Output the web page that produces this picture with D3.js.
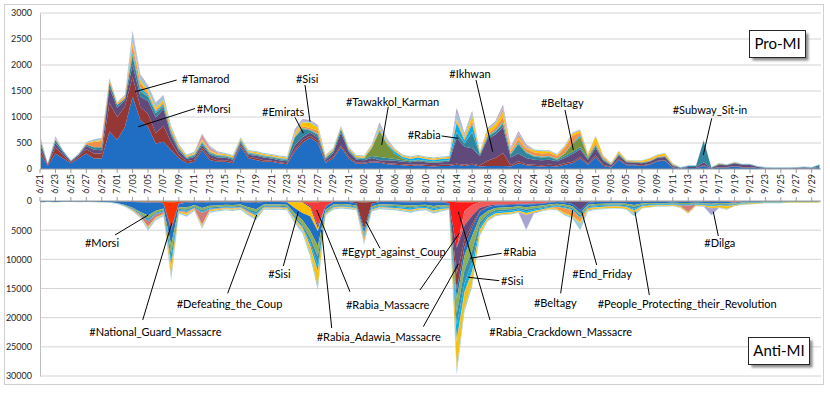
<!DOCTYPE html>
<html>
<head>
<meta charset="utf-8">
<script src="https://cdn.jsdelivr.net/npm/d3@7"></script>
<style>
  body { margin: 0; background: #fff; }
  text { font-family: Lato, "Open Sans", sans-serif; }
</style>
</head>
<body>
<div id="chart-area"></div>
<script>
// categories: one per day, 6/21 .. 9/30 (2013)
const days = d3.timeDay.range(new Date(2013, 5, 21), new Date(2013, 9, 1));

// x tick labels, every second day
const tickLabels = ["6/21", "6/23", "6/25", "6/27", "6/29", "7/01", "7/03", "7/05", "7/07", "7/09",
    "7/11", "7/13", "7/15", "7/17", "7/19", "7/21", "7/23", "7/25", "7/27", "7/29", "7/31",
    "8/02", "8/04", "8/06", "8/08", "8/10", "8/12", "8/14", "8/16", "8/18", "8/20", "8/22",
    "8/24", "8/26", "8/28", "8/30", "9/01", "9/03", "9/05", "9/07", "9/09", "9/11", "9/13",
    "9/15", "9/17", "9/19", "9/21", "9/23", "9/25", "9/27", "9/29"];

const topTicks = [0, 500, 1000, 1500, 2000, 2500, 3000];
const bottomTicks = [0, 5000, 10000, 15000, 20000, 25000, 30000];

// ---- Pro-MI series (tweets per day) ----
const morsiPro = [300, 60, 300, 200, 110, 200, 300, 200, 200, 720,
    560, 810, 1390, 940, 810, 490, 525, 365, 205, 110,
    140, 365, 175, 140, 140, 110, 430, 205, 175, 140,
    140, 110, 90, 330, 500, 600, 500, 120, 200, 420,
    200, 100, 100, 130, 120, 90, 80, 70, 60, 70,
    60, 50, 60, 60, 80, 60, 80, 50, 60, 60,
    60, 50, 110, 70, 60, 50, 60, 50, 80, 110,
    200, 80, 230, 60, 30, 180, 70, 70, 60, 80,
    150, 160, 20, 10, 20, 20, 60, 10, 30, 30,
    50, 30, 30, 20, 10, 10, 10, 10, 10, 10,
    10, 20];
const tamarodPro = [80, 20, 120, 60, 20, 40, 80, 100, 100, 550,
    440, 390, 380, 250, 250, 200, 300, 150, 60, 40,
    40, 40, 40, 30, 30, 30, 30, 30, 30, 30,
    20, 20, 20, 40, 50, 40, 40, 20, 30, 30,
    30, 20, 20, 20, 20, 20, 20, 20, 20, 20,
    20, 20, 20, 20, 20, 20, 20, 20, 100, 150,
    250, 20, 40, 20, 20, 20, 20, 20, 30, 30,
    30, 20, 30, 20, 10, 20, 10, 10, 10, 10,
    10, 10, 10, 0, 0, 0, 10, 0, 10, 10,
    10, 10, 10, 0, 0, 0, 0, 0, 0, 0,
    0, 0];
const ikhwanPro = [100, 10, 80, 50, 20, 30, 60, 70, 60, 300,
    180, 120, 230, 200, 250, 300, 330, 130, 80, 40,
    50, 50, 60, 50, 50, 40, 40, 40, 50, 50,
    40, 40, 40, 80, 60, 60, 60, 40, 80, 250,
    100, 60, 50, 60, 30, 60, 60, 50, 50, 60,
    50, 50, 50, 60, 500, 350, 300, 180, 420, 450,
    500, 150, 150, 120, 100, 100, 100, 80, 100, 150,
    150, 80, 150, 80, 30, 60, 50, 40, 40, 50,
    50, 60, 30, 10, 20, 20, 60, 10, 40, 30,
    50, 40, 40, 20, 10, 5, 5, 5, 10, 20,
    10, 20];
const emiratsPro = [80, 10, 60, 30, 10, 10, 30, 50, 60, 90,
    50, 30, 180, 100, 80, 80, 50, 40, 40, 20,
    30, 40, 30, 30, 20, 20, 30, 20, 20, 20,
    20, 20, 20, 150, 160, 40, 60, 20, 30, 60,
    30, 20, 20, 40, 60, 40, 30, 30, 20, 20,
    20, 20, 20, 20, 100, 60, 300, 30, 40, 50,
    60, 60, 180, 100, 60, 50, 50, 30, 40, 40,
    40, 20, 30, 20, 10, 20, 10, 10, 10, 10,
    10, 10, 10, 10, 20, 20, 420, 10, 10, 10,
    10, 10, 10, 10, 10, 10, 10, 10, 10, 10,
    10, 40];
const tawakkolPro = [0, 0, 0, 0, 0, 0, 0, 0, 0, 0,
    0, 0, 20, 20, 10, 10, 20, 20, 10, 10,
    10, 10, 10, 10, 10, 10, 10, 10, 10, 10,
    10, 10, 10, 10, 10, 10, 10, 10, 10, 10,
    10, 10, 10, 150, 500, 250, 100, 30, 10, 10,
    10, 10, 10, 10, 10, 10, 10, 10, 10, 10,
    10, 10, 10, 10, 10, 10, 10, 10, 50, 150,
    200, 30, 20, 10, 10, 10, 10, 10, 10, 10,
    10, 10, 10, 0, 0, 0, 0, 0, 10, 0,
    0, 0, 0, 0, 0, 0, 0, 0, 0, 0,
    0, 0];
const rabiaPro = [0, 0, 0, 0, 0, 0, 0, 0, 0, 0,
    0, 0, 50, 50, 30, 30, 30, 20, 10, 10,
    10, 20, 10, 10, 10, 10, 20, 10, 10, 10,
    10, 10, 10, 10, 10, 10, 10, 10, 10, 10,
    10, 10, 10, 10, 20, 20, 40, 30, 30, 40,
    30, 20, 30, 30, 180, 50, 150, 10, 10, 20,
    20, 10, 20, 10, 10, 10, 10, 10, 10, 10,
    30, 10, 10, 10, 0, 10, 0, 0, 0, 0,
    0, 0, 0, 0, 0, 0, 0, 0, 0, 0,
    0, 0, 0, 0, 0, 0, 0, 0, 0, 0,
    0, 0];
const beltagyPro = [20, 0, 10, 0, 0, 0, 20, 100, 120, 40,
    20, 30, 120, 100, 30, 30, 30, 30, 20, 10,
    10, 20, 10, 10, 10, 10, 10, 10, 10, 10,
    10, 10, 10, 20, 30, 30, 60, 10, 10, 10,
    10, 10, 10, 20, 20, 20, 20, 10, 10, 10,
    10, 10, 10, 10, 30, 30, 60, 10, 30, 60,
    100, 40, 60, 60, 60, 60, 60, 50, 100, 150,
    50, 30, 40, 30, 10, 10, 10, 10, 10, 10,
    10, 10, 10, 0, 0, 0, 0, 0, 0, 0,
    0, 0, 0, 0, 0, 0, 0, 0, 0, 0,
    0, 0];
const sisiPro = [10, 0, 10, 0, 0, 0, 10, 20, 20, 20,
    20, 20, 60, 50, 40, 40, 40, 30, 20, 20,
    20, 20, 20, 20, 20, 20, 20, 20, 20, 20,
    20, 20, 20, 40, 80, 100, 60, 20, 20, 20,
    20, 20, 20, 20, 20, 20, 20, 20, 20, 20,
    20, 20, 20, 20, 40, 40, 100, 10, 80, 60,
    100, 20, 40, 20, 40, 40, 30, 20, 20, 40,
    40, 20, 120, 20, 10, 30, 10, 10, 20, 30,
    30, 40, 10, 0, 0, 0, 0, 0, 10, 0,
    10, 0, 0, 0, 0, 0, 0, 0, 0, 0,
    0, 0];
const pinkPro = [0, 0, 0, 0, 0, 0, 0, 0, 0, 0,
    0, 0, 30, 0, 0, 0, 0, 0, 0, 0,
    0, 100, 60, 20, 0, 0, 0, 0, 0, 0,
    0, 0, 0, 0, 0, 0, 0, 0, 0, 0,
    0, 0, 0, 0, 0, 0, 0, 0, 0, 0,
    0, 0, 0, 0, 0, 0, 0, 0, 0, 0,
    60, 30, 60, 30, 0, 0, 0, 0, 0, 0,
    0, 0, 0, 0, 0, 0, 0, 0, 0, 0,
    0, 0, 0, 0, 0, 0, 0, 0, 0, 0,
    0, 0, 0, 0, 0, 0, 0, 0, 0, 0,
    0, 0];
const lightBluePro = [40, 10, 30, 20, 10, 20, 20, 30, 30, 30,
    20, 30, 150, 80, 80, 80, 80, 30, 20, 20,
    20, 20, 20, 20, 20, 20, 20, 20, 20, 20,
    20, 20, 20, 30, 30, 30, 30, 20, 20, 20,
    20, 20, 20, 30, 60, 40, 20, 20, 20, 20,
    20, 20, 20, 20, 120, 50, 60, 20, 20, 30,
    30, 20, 20, 20, 20, 20, 20, 20, 20, 20,
    20, 10, 10, 10, 10, 10, 10, 10, 10, 10,
    10, 10, 10, 10, 10, 10, 10, 10, 10, 10,
    10, 10, 10, 10, 10, 10, 10, 10, 10, 10,
    10, 10];
const lightPurplePro = [20, 0, 20, 0, 0, 0, 0, 0, 10, 0,
    0, 0, 50, 30, 30, 20, 20, 10, 10, 0,
    0, 0, 10, 0, 0, 0, 0, 0, 0, 0,
    0, 0, 0, 50, 30, 20, 20, 0, 0, 0,
    0, 0, 0, 0, 50, 20, 0, 0, 0, 0,
    0, 0, 0, 0, 100, 20, 40, 0, 20, 30,
    50, 20, 40, 20, 0, 0, 0, 0, 0, 0,
    0, 0, 0, 0, 0, 0, 0, 0, 0, 0,
    0, 0, 0, 0, 0, 0, 0, 0, 0, 0,
    0, 0, 0, 0, 0, 0, 0, 0, 0, 0,
    0, 0];

// ---- Anti-MI series (tweets per day) ----
const thinAnti = [20, 10, 20, 10, 10, 10, 10, 10, 20, 20,
    50, 80, 100, 150, 200, 150, 150, 200, 150, 150,
    100, 150, 100, 100, 100, 100, 100, 120, 150, 100,
    100, 100, 100, 100, 150, 200, 200, 100, 100, 90,
    90, 100, 150, 100, 90, 100, 100, 100, 120, 100,
    100, 130, 100, 80, 200, 200, 200, 150, 120, 100,
    100, 100, 80, 100, 90, 80, 80, 80, 100, 100,
    100, 80, 80, 70, 70, 70, 80, 80, 70, 60,
    60, 60, 50, 60, 60, 50, 60, 60, 60, 60,
    40, 30, 30, 20, 20, 20, 20, 20, 20, 20,
    20, 20];
const ngmAnti = [0, 0, 0, 0, 0, 0, 0, 0, 0, 0,
    0, 0, 0, 0, 0, 0, 200, 4500, 200, 0,
    0, 0, 0, 0, 0, 0, 0, 0, 0, 0,
    0, 0, 0, 0, 0, 0, 0, 0, 0, 0,
    0, 0, 0, 0, 0, 0, 0, 0, 0, 0,
    0, 0, 0, 0, 0, 0, 0, 0, 0, 0,
    0, 0, 0, 0, 0, 0, 0, 0, 0, 0,
    0, 0, 0, 0, 0, 0, 0, 0, 0, 0,
    0, 0, 0, 0, 0, 0, 0, 0, 0, 0,
    0, 0, 0, 0, 0, 0, 0, 0, 0, 0,
    0, 0];
const rabiaMassacreAnti = [0, 0, 0, 0, 0, 0, 0, 0, 0, 0,
    0, 0, 0, 0, 0, 0, 0, 0, 0, 0,
    0, 0, 0, 0, 0, 0, 0, 0, 0, 0,
    0, 0, 0, 0, 0, 600, 4000, 800, 0, 0,
    0, 0, 0, 0, 0, 0, 0, 0, 0, 0,
    0, 0, 0, 0, 0, 0, 0, 0, 0, 0,
    0, 0, 0, 0, 0, 0, 0, 0, 0, 0,
    0, 0, 0, 0, 0, 0, 0, 0, 0, 0,
    0, 0, 0, 0, 0, 0, 0, 0, 0, 0,
    0, 0, 0, 0, 0, 0, 0, 0, 0, 0,
    0, 0];
const crackdownAnti = [0, 0, 0, 0, 0, 0, 0, 0, 0, 0,
    0, 0, 0, 0, 0, 0, 0, 0, 0, 0,
    0, 0, 0, 0, 0, 0, 0, 0, 0, 0,
    0, 0, 0, 0, 0, 0, 0, 0, 0, 0,
    0, 0, 0, 0, 0, 0, 0, 0, 0, 0,
    0, 0, 0, 300, 7800, 1500, 500, 0, 0, 0,
    0, 0, 0, 0, 0, 0, 0, 0, 0, 0,
    0, 0, 0, 0, 0, 0, 0, 0, 0, 0,
    0, 0, 0, 0, 0, 0, 0, 0, 0, 0,
    0, 0, 0, 0, 0, 0, 0, 0, 0, 0,
    0, 0];
const redLightAnti = [0, 0, 0, 0, 0, 0, 0, 0, 0, 0,
    0, 0, 0, 0, 0, 0, 0, 0, 0, 0,
    0, 0, 0, 0, 0, 0, 0, 0, 0, 0,
    0, 0, 0, 0, 0, 0, 0, 0, 0, 0,
    0, 0, 0, 0, 0, 0, 0, 0, 0, 0,
    0, 0, 0, 0, 0, 2500, 1800, 1000, 700, 500,
    500, 450, 400, 350, 350, 300, 150, 0, 0, 0,
    0, 0, 0, 0, 0, 0, 0, 0, 0, 0,
    0, 0, 0, 0, 0, 0, 0, 0, 0, 0,
    200, 0, 0, 0, 0, 0, 0, 0, 0, 0,
    0, 0];
const purpleAnti = [0, 0, 0, 0, 0, 0, 0, 0, 0, 0,
    0, 0, 50, 50, 100, 100, 50, 300, 100, 150,
    100, 150, 100, 100, 100, 100, 90, 150, 150, 90,
    90, 90, 100, 100, 100, 300, 500, 100, 90, 80,
    90, 70, 100, 50, 80, 80, 90, 100, 110, 100,
    90, 120, 100, 60, 4500, 2500, 1500, 500, 200, 150,
    120, 120, 100, 150, 100, 80, 80, 80, 150, 400,
    1500, 200, 100, 80, 70, 70, 80, 100, 70, 60,
    50, 50, 50, 60, 60, 50, 50, 100, 60, 60,
    40, 30, 30, 20, 20, 20, 20, 10, 10, 10,
    10, 10];
const egyptAnti = [0, 0, 0, 0, 0, 0, 0, 0, 0, 0,
    0, 0, 0, 0, 0, 0, 0, 0, 0, 0,
    0, 0, 0, 0, 0, 0, 0, 0, 0, 0,
    0, 0, 0, 0, 0, 0, 0, 0, 0, 0,
    0, 200, 4500, 300, 0, 0, 0, 0, 0, 0,
    0, 0, 0, 0, 2800, 1200, 500, 200, 100, 0,
    0, 0, 0, 0, 0, 0, 0, 0, 0, 0,
    0, 0, 0, 0, 0, 0, 0, 0, 0, 0,
    0, 0, 0, 0, 0, 0, 0, 0, 0, 0,
    0, 0, 0, 0, 0, 0, 0, 0, 0, 0,
    0, 0];
const sisiAnti = [0, 0, 0, 0, 0, 0, 0, 0, 0, 0,
    0, 0, 0, 0, 0, 0, 0, 0, 0, 0,
    0, 0, 0, 0, 0, 0, 0, 0, 0, 0,
    0, 0, 0, 1000, 1800, 1500, 500, 0, 0, 0,
    0, 0, 0, 0, 0, 0, 0, 0, 0, 0,
    0, 0, 0, 0, 0, 0, 0, 0, 0, 0,
    0, 0, 0, 0, 0, 0, 0, 0, 0, 0,
    0, 0, 0, 0, 0, 0, 0, 0, 0, 0,
    0, 0, 0, 0, 0, 0, 0, 0, 0, 0,
    0, 0, 0, 0, 0, 0, 0, 0, 0, 0,
    0, 0];
const morsiAnti = [200, 100, 150, 100, 100, 130, 100, 130, 150, 180,
    300, 600, 1000, 1700, 2200, 1400, 900, 2500, 600, 800,
    500, 900, 600, 550, 450, 500, 420, 800, 1100, 420,
    420, 420, 450, 900, 1200, 2500, 2500, 500, 420, 360,
    400, 400, 700, 450, 400, 420, 450, 500, 550, 470,
    450, 600, 500, 380, 1500, 1500, 1500, 900, 600, 450,
    400, 380, 330, 450, 380, 320, 300, 300, 350, 400,
    500, 350, 320, 300, 280, 280, 320, 500, 280, 240,
    220, 220, 200, 240, 240, 200, 220, 300, 240, 260,
    160, 150, 130, 110, 90, 90, 90, 70, 70, 70,
    70, 70];
const greenAnti = [0, 0, 0, 0, 0, 0, 0, 0, 0, 0,
    40, 80, 150, 250, 500, 350, 300, 1500, 300, 350,
    250, 400, 300, 250, 250, 250, 220, 350, 450, 220,
    220, 220, 250, 500, 800, 1200, 1800, 300, 220, 190,
    200, 230, 300, 250, 200, 220, 230, 250, 280, 240,
    230, 300, 250, 200, 2500, 2500, 2500, 900, 500, 400,
    350, 350, 300, 400, 330, 270, 230, 250, 300, 300,
    350, 250, 230, 220, 200, 200, 230, 300, 200, 170,
    150, 150, 130, 170, 170, 130, 150, 170, 170, 180,
    110, 100, 80, 70, 50, 50, 50, 40, 40, 40,
    40, 40];
const tealAnti = [0, 0, 0, 0, 0, 0, 0, 0, 0, 0,
    20, 50, 100, 150, 300, 200, 200, 1200, 200, 250,
    150, 250, 200, 180, 150, 170, 150, 250, 350, 150,
    150, 150, 150, 250, 300, 800, 1500, 200, 150, 130,
    140, 150, 200, 150, 140, 150, 160, 180, 200, 170,
    160, 220, 180, 130, 2000, 2200, 2000, 700, 400, 300,
    280, 270, 240, 300, 260, 210, 180, 180, 200, 200,
    250, 180, 170, 160, 150, 150, 170, 400, 150, 130,
    120, 120, 110, 130, 130, 110, 120, 130, 130, 140,
    90, 80, 70, 60, 50, 50, 50, 40, 40, 40,
    40, 40];
const rabiaAnti = [0, 0, 0, 0, 0, 0, 0, 0, 0, 0,
    0, 30, 50, 80, 150, 100, 100, 800, 150, 150,
    100, 150, 100, 100, 100, 100, 100, 150, 250, 100,
    100, 100, 100, 150, 200, 500, 1000, 100, 100, 90,
    100, 100, 300, 150, 120, 130, 150, 200, 230, 180,
    150, 250, 200, 130, 2500, 1500, 1500, 500, 300, 250,
    250, 240, 200, 300, 220, 180, 150, 150, 150, 150,
    200, 150, 150, 150, 140, 140, 160, 200, 140, 120,
    110, 110, 100, 120, 120, 100, 110, 120, 120, 130,
    80, 80, 70, 60, 50, 50, 50, 40, 40, 40,
    40, 40];
const pinkAnti = [0, 0, 0, 0, 0, 0, 0, 0, 0, 0,
    0, 20, 100, 200, 900, 500, 300, 200, 100, 200,
    100, 2000, 150, 100, 80, 70, 60, 120, 100, 60,
    60, 60, 70, 50, 50, 100, 100, 30, 60, 50,
    50, 30, 150, 30, 40, 50, 50, 60, 60, 50,
    50, 60, 60, 0, 0, 0, 0, 0, 0, 0,
    0, 0, 0, 0, 0, 0, 0, 0, 0, 0,
    0, 0, 0, 0, 0, 0, 0, 0, 0, 0,
    0, 0, 0, 100, 1100, 0, 0, 0, 0, 0,
    0, 0, 0, 0, 0, 0, 0, 0, 0, 0,
    0, 0];
const beltagyAnti = [0, 0, 0, 0, 0, 0, 0, 0, 0, 0,
    0, 0, 50, 50, 100, 50, 50, 200, 0, 100,
    50, 200, 50, 50, 40, 40, 30, 60, 50, 30,
    30, 30, 30, 100, 100, 200, 100, 20, 30, 30,
    30, 20, 500, 20, 30, 30, 30, 30, 30, 30,
    30, 40, 30, 0, 500, 300, 300, 150, 80, 50,
    50, 50, 50, 50, 40, 40, 100, 300, 800, 1000,
    600, 190, 100, 70, 60, 60, 60, 120, 60, 50,
    40, 40, 40, 50, 50, 40, 40, 50, 50, 70,
    30, 30, 30, 20, 10, 10, 10, 10, 10, 10,
    10, 10];
const goldAnti = [30, 10, 30, 10, 10, 20, 10, 20, 30, 30,
    30, 50, 80, 100, 200, 150, 150, 1500, 200, 250,
    150, 200, 150, 150, 130, 150, 130, 200, 300, 130,
    130, 130, 150, 250, 300, 1000, 2500, 150, 130, 110,
    120, 130, 200, 130, 110, 120, 130, 150, 160, 140,
    130, 180, 150, 100, 4500, 2500, 1800, 700, 300, 250,
    220, 220, 200, 300, 200, 170, 150, 170, 200, 200,
    300, 200, 200, 220, 220, 220, 250, 300, 220, 180,
    170, 170, 150, 180, 180, 150, 170, 300, 280, 450,
    100, 120, 100, 90, 70, 70, 70, 50, 50, 50,
    50, 50];
const dilgaAnti = [0, 0, 0, 0, 0, 0, 0, 0, 0, 0,
    0, 0, 0, 0, 0, 0, 0, 100, 0, 0,
    0, 0, 0, 0, 0, 0, 0, 0, 0, 0,
    0, 0, 0, 0, 0, 0, 0, 0, 0, 0,
    0, 0, 0, 0, 0, 0, 0, 0, 0, 0,
    0, 0, 0, 0, 0, 0, 0, 0, 0, 0,
    0, 0, 0, 2500, 150, 80, 0, 0, 0, 0,
    0, 0, 0, 0, 0, 0, 0, 0, 0, 0,
    0, 0, 0, 0, 0, 0, 0, 1150, 0, 0,
    0, 0, 0, 0, 0, 0, 0, 0, 0, 0,
    0, 0];
const lightBlueAnti = [50, 30, 50, 30, 30, 40, 30, 40, 50, 70,
    60, 90, 120, 200, 400, 300, 200, 600, 200, 300,
    200, 300, 250, 220, 200, 220, 200, 300, 400, 200,
    200, 200, 200, 400, 500, 600, 600, 200, 200, 170,
    180, 170, 400, 170, 190, 200, 210, 230, 260, 220,
    210, 300, 230, 120, 1000, 600, 600, 300, 200, 150,
    130, 120, 100, 100, 80, 70, 80, 90, 250, 250,
    1200, 200, 150, 130, 110, 110, 130, 600, 110, 90,
    80, 80, 70, 90, 90, 70, 80, 120, 90, 150,
    50, 80, 60, 50, 40, 40, 40, 20, 20, 20,
    20, 20];

const proSeries = [
    { name: "#Morsi", values: morsiPro, color: "#1F6EC4" },
    { name: "#Tamarod", values: tamarodPro, color: "#953735" },
    { name: "#Ikhwan", values: ikhwanPro, color: "#604A7B" },
    { name: "#Emirats", values: emiratsPro, color: "#31859C" },
    { name: "#Tawakkol_Karman", values: tawakkolPro, color: "#77933C" },
    { name: "#Rabia", values: rabiaPro, color: "#00B0F0" },
    { name: "#Beltagy", values: beltagyPro, color: "#F0904A" },
    { name: "#Sisi", values: sisiPro, color: "#FFC000" },
    { name: "other1", values: pinkPro, color: "#D99694" },
    { name: "other2", values: lightBluePro, color: "#9DC3D6" },
    { name: "other3", values: lightPurplePro, color: "#B3A2C7" }
];

const antiSeries = [
    { name: "other1", values: thinAnti, color: "#CF8040" },
    { name: "#National_Guard_Massacre", values: ngmAnti, color: "#FF3300" },
    { name: "#Rabia_Massacre", values: rabiaMassacreAnti, color: "#F23A3A" },
    { name: "#Rabia_Crackdown_Massacre", values: crackdownAnti, color: "#FF1A1A" },
    { name: "#Rabia_Adawia_Massacre", values: redLightAnti, color: "#F45A5A" },
    { name: "#End_Friday", values: purpleAnti, color: "#604A7B" },
    { name: "#Egypt_against_Coup", values: egyptAnti, color: "#953735" },
    { name: "#Sisi", values: sisiAnti, color: "#FFC000" },
    { name: "#Morsi", values: morsiAnti, color: "#1F6FC5" },
    { name: "#Defeating_the_Coup", values: greenAnti, color: "#8EB054" },
    { name: "#People_Protecting_their_Revolution", values: tealAnti, color: "#3C8DA8" },
    { name: "#Rabia", values: rabiaAnti, color: "#00B0F0" },
    { name: "other2", values: pinkAnti, color: "#D07C7A" },
    { name: "#Beltagy", values: beltagyAnti, color: "#F79646" },
    { name: "other3", values: goldAnti, color: "#F2C314" },
    { name: "#Dilga", values: dilgaAnti, color: "#A9A3D2" },
    { name: "other4", values: lightBlueAnti, color: "#9FCBDD" }
];

// annotations: label at [day, value], leader lines [day, value, day, value]
const proNotes = [
    { text: "#Tamarod", at: [18.36, 1721], lines: [[17.71, 1711, 12.31, 1486]] },
    { text: "#Morsi", at: [20.31, 1154], lines: [[20.09, 1163, 12.74, 813]] },
    { text: "#Emirats", at: [28.77, 1102], lines: [[33.04, 994, 34.12, 687]] },
    { text: "#Sisi", at: [33.17, 1731], lines: [[34.34, 1615, 34.99, 910]] },
    { text: "#Tawakkol_Karman", at: [39.65, 1294], lines: [[45.13, 1198, 44.28, 462]] },
    { text: "#Rabia", at: [47.65, 654], lines: [[52.05, 635, 54.21, 590]] },
    { text: "#Ikhwan", at: [53.04, 1827], lines: [[56.50, 1711, 58.66, 333]] },
    { text: "#Beltagy", at: [64.92, 1263], lines: [[68.03, 1135, 69.11, 365]] },
    { text: "#Subway_Sit-in", at: [81.99, 1135], lines: [[87.04, 975, 85.95, 269]] }
];
const antiNotes = [
    { text: "#Morsi", at: [5.83, 7250], lines: [[9.72, 5828, 14.03, 2400]] },
    { text: "#National_Guard_Massacre", at: [6.39, 22402], lines: [[13.31, 20397, 17.07, 3822]] },
    { text: "#Defeating_the_Coup", at: [17.71, 17706], lines: [[24.32, 15820, 28.08, 2400]] },
    { text: "#Sisi", at: [29.58, 12512], lines: [[31.53, 11141, 33.47, 1834]] },
    { text: "#Egypt_against_Coup", at: [39.10, 8690], lines: [[44.06, 8107, 42.24, 3548]] },
    { text: "#Rabia_Massacre", at: [39.65, 17826],
        lines: [[40.17, 15546, 35.86, 1543], [49.24, 15255, 54.33, 5536]] },
    { text: "#Rabia_Adawia_Massacre", at: [35.86, 23259],
        lines: [[37.80, 21768, 36.50, 4971], [49.67, 21545, 54.21, 10798]] },
    { text: "#Rabia", at: [60.04, 8690], lines: [[59.83, 8964, 55.72, 9821]] },
    { text: "#Sisi", at: [59.74, 13712], lines: [[59.52, 13660, 55.50, 13078]] },
    { text: "#Rabia_Crackdown_Massacre", at: [58.22, 22402], lines: [[58.31, 20397, 54.21, 1834]] },
    { text: "#Beltagy", at: [64.01, 17432], lines: [[67.47, 15820, 69.03, 1543]] },
    { text: "#End_Friday", at: [68.98, 12564], lines: [[72.14, 10970, 70.20, 1834]] },
    { text: "#People_Protecting_their_Revolution", at: [72.27, 17654], lines: [[78.96, 16112, 77.10, 1834]] },
    { text: "#Dilga", at: [86.08, 7250], lines: [[87.90, 5999, 87.25, 1834]] }
];

const W = 830, H = 393;
const svg = d3.select('#chart-area')
    .append('svg')
    .attr('width', W)
    .attr('height', H);

const defs = svg.append("defs");
defs.append("filter").attr("id", "shadow")
    .append("feGaussianBlur").attr("stdDeviation", 1.2);

// outer frame
svg.append("rect")
    .attr("x", 4.5).attr("y", 4.5)
    .attr("width", 819).attr("height", 380)
    .attr("fill", "#fff")
    .attr("stroke", "#D0D0D0");

const x = d3.scaleLinear()
    .domain([0, days.length - 1])
    .range([40, 40 + 7.717 * (days.length - 1)]);
const plotRight = 821;

const yTop = d3.scaleLinear().domain([0, 3000]).range([169, 13]);
const yBot = d3.scaleLinear().domain([0, 30000]).range([201, 376]);

// gridlines
svg.append("g").selectAll("line")
    .data(topTicks.slice(1))
    .join("line")
    .attr("x1", 40).attr("x2", plotRight)
    .attr("y1", d => yTop(d)).attr("y2", d => yTop(d))
    .attr("stroke", "#D4D4D4");
svg.append("g").selectAll("line")
    .data(bottomTicks.slice(1))
    .join("line")
    .attr("x1", 40).attr("x2", plotRight)
    .attr("y1", d => yBot(d)).attr("y2", d => yBot(d))
    .attr("stroke", "#D4D4D4");

function rowsFor(series) {
    return days.map((d, i) => {
        const row = { i: i };
        series.forEach(s => { row[s.name + s.color] = s.values[i]; });
        return row;
    });
}

function drawStack(series, yScale) {
    const keys = series.map(s => s.name + s.color);
    const stacked = d3.stack().keys(keys)(rowsFor(series));
    const area = d3.area()
        .x(d => x(d.data.i))
        .y0(d => yScale(d[0]))
        .y1(d => yScale(d[1]));
    svg.append("g").selectAll("path")
        .data(stacked)
        .join("path")
        .attr("d", area)
        .attr("fill", (d, i) => series[i].color);
}

drawStack(proSeries, yTop);
drawStack(antiSeries, yBot);

// y axes
const yAxisTop = d3.axisLeft(yTop).tickValues(topTicks).tickFormat(d3.format("d"))
    .tickSize(0).tickPadding(8);
const gTop = svg.append("g").attr("transform", "translate(40,0)").call(yAxisTop);
const yAxisBot = d3.axisLeft(yBot).tickValues(bottomTicks).tickFormat(d3.format("d"))
    .tickSize(0).tickPadding(8);
const gBot = svg.append("g").attr("transform", "translate(40,0)").call(yAxisBot);
[gTop, gBot].forEach(g => {
    g.select(".domain").attr("stroke", "#BFBFBF");
    g.selectAll("text")
        .style("font-family", "Lato, sans-serif")
        .style("font-size", "9px")
        .attr("fill", "#262626");
});

// x axis of the top chart (category labels, every 2 days)
const labelIdx = tickLabels.map((t, k) => k * 2);
const xAxisGroup = svg.append("g")
    .attr("transform", "translate(0," + 169 + ")");
xAxisGroup.append("line")
    .attr("x1", 40).attr("x2", plotRight)
    .attr("stroke", "#9A9A9A");
xAxisGroup.selectAll("line.tick")
    .data(labelIdx)
    .join("line")
    .attr("class", "tick")
    .attr("x1", d => x(d)).attr("x2", d => x(d))
    .attr("y1", 0).attr("y2", 4)
    .attr("stroke", "#9A9A9A");
xAxisGroup.selectAll("text")
    .data(tickLabels)
    .join("text")
    .attr("transform", (t, k) => "translate(" + (x(labelIdx[k]) + 3) + ",5) rotate(-90)")
    .style("text-anchor", "end")
    .style("font-size", "9px")
    .attr("fill", "#262626")
    .text(t => t);

// zero line of the bottom chart
const xAxisBottom = svg.append("g")
    .attr("transform", "translate(0," + 201 + ")");
xAxisBottom.append("line")
    .attr("x1", 40).attr("x2", plotRight)
    .attr("stroke", "#9A9A9A");
xAxisBottom.selectAll("line.tick")
    .data(labelIdx)
    .join("line")
    .attr("class", "tick")
    .attr("x1", d => x(d)).attr("x2", d => x(d))
    .attr("y1", -4).attr("y2", 0)
    .attr("stroke", "#9A9A9A");

// annotations
function drawNotes(notes, yScale) {
    const g = svg.append("g");
    notes.forEach(n => {
        n.lines.forEach(l => {
            g.append("line")
                .attr("x1", x(l[0])).attr("y1", yScale(l[1]))
                .attr("x2", x(l[2])).attr("y2", yScale(l[3]))
                .attr("stroke", "#000")
                .attr("stroke-width", 1);
        });
        g.append("text")
            .attr("x", x(n.at[0]))
            .attr("y", yScale(n.at[1]))
            .attr("dy", "0.35em")
            .style("font-size", "11px")
            .attr("fill", "#000")
            .text(n.text);
    });
}
drawNotes(proNotes, yTop);
drawNotes(antiNotes, yBot);

// boxed titles
function titleBox(label, bx, by, bw, bh) {
    svg.append("rect")
        .attr("x", bx + 3).attr("y", by + 3)
        .attr("width", bw).attr("height", bh)
        .attr("fill", "#8C8C8C")
        .attr("filter", "url(#shadow)");
    svg.append("rect")
        .attr("x", bx).attr("y", by)
        .attr("width", bw).attr("height", bh)
        .attr("fill", "#fff")
        .attr("stroke", "#262626");
    svg.append("text")
        .attr("x", bx + bw / 2).attr("y", by + bh / 2)
        .attr("dy", "0.35em")
        .style("text-anchor", "middle")
        .style("font-size", "15px")
        .attr("fill", "#000")
        .text(label);
}
titleBox("Pro-MI", 749.5, 30.5, 56, 27);
titleBox("Anti-MI", 748.5, 337.5, 61, 27);
</script>
</body>
</html>
